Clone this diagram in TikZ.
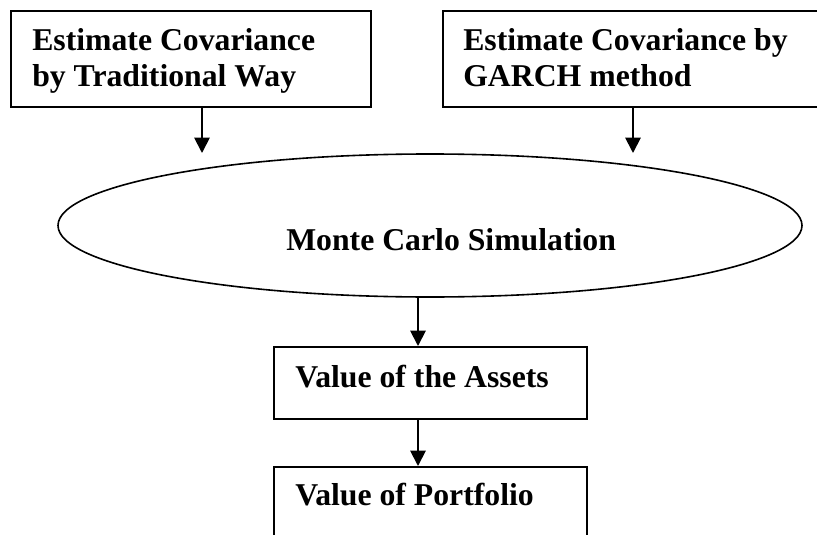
\documentclass[tikz,border=0pt]{standalone}
\usepackage{fontspec}
\setmainfont{Liberation Serif}
\usetikzlibrary{shapes.geometric,arrows.meta}
\begin{document}
\begin{tikzpicture}[x=0.75pt,y=-0.75pt,
  frame/.style={draw, line width=1.4pt, rectangle, anchor=north west, inner sep=0pt},
  txt/.style={anchor=base west, inner sep=0pt, align=left,
    font=\fontsize{23.8pt}{27.75pt}\selectfont\bfseries},
  arr/.style={line width=1.4pt, -{Triangle[length=11.5pt,width=11.5pt]}}]
\useasboundingbox (0,0) rectangle (817,535);
\clip (0,0) rectangle (817,535);

% two estimation boxes on top (base anchor sits on the last line)
\node[frame, minimum width=270pt, minimum height=72pt] (b1) at (10,10) {};
\node[txt] (t1) at (32,87) {Estimate Covariance\\by Traditional Way};
\node[frame, minimum width=286.5pt, minimum height=72pt] (b2) at (442,10) {};
\node[txt] (t2) at (463,87) {Estimate Covariance by\\GARCH method};

% simulation step
\node[draw, ellipse, line width=1.2pt, minimum width=558pt, minimum height=107.25pt,
  inner sep=0pt] (mc) at (430,225.5) {};
\node[txt] (mct) at (286,250) {Monte Carlo Simulation};

% results
\node[frame, minimum width=234.75pt, minimum height=54pt] (b3) at (273,346) {};
\node[txt] (t3) at (295,387) {Value of the Assets};
\node[frame, minimum width=234.75pt, minimum height=54pt] (b4) at (273,466) {};
\node[txt] (t4) at (295,505) {Value of Portfolio};

% connectors
\coordinate (h1) at (202,153);
\coordinate (h2) at (633,153);
\coordinate (x3) at (418,0);
\draw[arr] (b1.south -| h1) -- (h1);
\draw[arr] (b2.south -| h2) -- (h2);
\draw[arr] (mc.south -| x3) -- (b3.north -| x3);
\draw[arr] (b3.south -| x3) -- (b4.north -| x3);
\end{tikzpicture}
\end{document}
